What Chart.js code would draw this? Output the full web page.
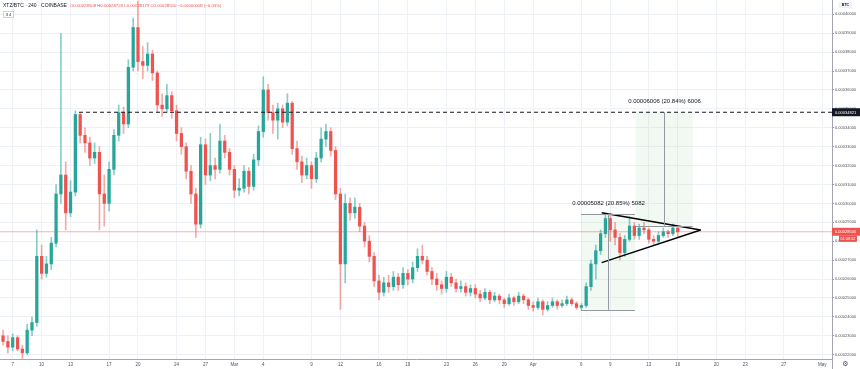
<!DOCTYPE html>
<html><head><meta charset="utf-8">
<script src="https://cdn.jsdelivr.net/npm/chart.js@4.4.1/dist/chart.umd.min.js"></script>
<style>
html,body{margin:0;padding:0;background:#fff;}
#wrap{position:relative;width:860px;height:369px;overflow:hidden;}
canvas{display:block;}
</style></head><body>
<div id="wrap"><canvas id="c" width="860" height="369"></canvas></div>
<script>
// ---- data (prices in satoshi = 1e-8 BTC), 12h candles ----
const START_DAY = -1.5;   // days from Feb 7 00:00 (first candle)
const BAR_DAYS = 0.5;
const opens = [
23300,23000,22700,22400,22900,22300,22100,23300,23700,27200,
26300,26800,27900,30500,31500,29500,30600,34700,33600,33200,
32400,32700,30500,30000,31800,33600,34800,34200,37200,39300,
37500,37300,37900,36900,35200,35000,35700,34900,33700,33000,
31700,30500,28900,33100,31500,32000,31800,33300,32700,31800,
30700,30800,31700,30900,32300,33800,36000,34800,34400,35000,
34300,35300,32900,32200,31500,32000,31300,32400,33400,33800,
32800,30500,26800,30000,29500,29800,28800,28000,27200,25900,
25300,25800,25600,26100,25700,26300,26000,26600,27200,27000,
26400,26000,25700,25500,26100,25800,25500,25600,25300,25500,
25200,25000,25300,24900,25100,24900,24700,25000,24800,25100,
24900,24600,24500,24800,24400,24600,24800,24600,24700,24900,
24700,24500,24600,25600,26800,27500,28400,29200,28600,28200,
27400,28100,28800,28300,28700,28600,28100,28000,28300,28500,
28400,28700];
const highs = [
23600,23300,23000,23100,23000,22500,23600,24000,28600,27800,
27200,28200,31000,39000,32200,31200,34900,34800,34000,33500,
33200,33000,31500,32200,33900,35200,35100,37600,39800,40700,
38300,38500,38100,37000,35800,36300,35900,35200,34000,33200,
32000,30800,33500,33400,33700,32400,34200,33600,32900,32000,
31300,32000,31900,32600,34100,36700,36300,35200,35300,35200,
35800,35400,33300,32500,32400,32200,32700,34000,34200,34000,
33000,30800,30500,30300,30300,30000,29000,28300,27400,26200,
26100,26200,26400,26300,26600,26500,26900,27600,27800,27200,
26600,26300,25900,26400,26300,26000,25900,25800,25700,25700,
25400,25500,25400,25300,25200,25000,25200,25100,25300,25200,
25000,24800,25000,24900,24800,25000,24900,24900,25100,25000,
24800,24700,25800,27000,27800,28600,29456,29400,29000,28400,
28300,29300,29000,28900,29000,28700,28300,28500,28700,28600,
28900,28726];
const lows = [
22800,22500,22100,22200,22200,21800,22000,23000,23500,26000,
26100,26500,27700,30000,28600,29300,30400,33200,32700,32000,
32100,28600,28800,29600,31500,33300,33700,34000,37000,37000,
36600,37000,36500,34800,34600,34800,34500,33300,32600,31300,
30000,28200,28700,31000,31200,31300,31600,32400,31500,30300,
30400,30600,30500,30700,32000,33500,34400,33700,33400,34000,
34100,32600,31800,31100,31300,30800,31100,32200,33000,32500,
30200,24400,25800,29100,29200,28500,27700,26900,25600,24900,
25100,25300,25400,25400,25500,25700,25800,26400,26800,26200,
25700,25400,25200,25300,25600,25300,25300,25100,25100,25000,
24800,24900,24700,24800,24700,24500,24600,24600,24700,24700,
24400,24300,24400,24100,24300,24500,24400,24500,24600,24600,
24400,24374,24500,25400,26000,27300,28200,28000,27800,27000,
27200,28000,28100,28100,28400,27900,27800,27900,28200,28200,
28300,28179];
const closes = [
23000,22700,22400,22900,22300,22100,23300,23700,27200,26300,
26800,27900,30500,31500,29500,30600,34700,33600,33200,32400,
32700,30500,30000,31800,33600,34800,34200,37200,39300,37500,
37300,37900,36900,35200,35000,35700,34900,33700,33000,31700,
30500,28900,33100,31500,32000,31800,33300,32700,31800,30700,
30800,31700,30900,32300,33800,36000,34800,34400,35000,34300,
35300,32900,32200,31500,32000,31300,32400,33400,33800,32800,
30500,26800,30000,29500,29800,28800,28000,27200,25900,25300,
25800,25600,26100,25700,26300,26000,26600,27200,27000,26400,
26000,25700,25500,26100,25800,25500,25600,25300,25500,25200,
25000,25300,24900,25100,24900,24700,25000,24800,25100,24900,
24600,24500,24800,24400,24600,24800,24600,24700,24900,24700,
24500,24600,25600,26800,27500,28400,29200,28600,28200,27400,
28100,28800,28300,28700,28600,28100,28000,28300,28500,28400,
28700,28500];

// time axis ticks (days from Feb 7) and labels
const xTickDays   = [0,3,6,10,13,17,20,23,26,31,34,38,41,45,48,51,54,59,62,66,69,73,76,80,84];
const xTickLabels = ['7','10','13','17','20','24','27','Mar','4','9','12','16','19','23','26','29','Apr','6','9','13','16','20','23','27','May'];
// price axis ticks (satoshi)
const yTickValues = [22000,23000,24000,25000,26000,27000,28000,29000,30000,31000,32000,33000,34000,35000,36000,37000,38000,39000,40000];

// drawings
const resistancePrice = 34821, resistanceFromDay = 6.88;
const lastPrice = 28500;
const measure1 = {from:58.97, to:64.57, low:24374, high:29456, mid:61.73, text:'0.00005082 (20.85%) 5082'};
const measure2 = {from:64.64, to:70.55, low:28815, high:34821, mid:67.6,  text:'0.00006006 (20.84%) 6006'};
const triUpper = [{x:61.11,y:29509},{x:71.38,y:28594}];
const triLower = [{x:61.11,y:26865},{x:71.38,y:28594}];

const X_MIN = -1.318, X_MAX = 85.007, Y_MIN = 21772, Y_MAX = 40756;
const GREEN = '#26a69a', RED = '#ef5350';
const FONT = '"Liberation Sans", Arial, sans-serif';

const times = opens.map((_, i) => START_DAY + i * BAR_DAYS);
const isUp = i => closes[i] >= opens[i];
const wickData = times.map((t, i) => ({x: t, y: [lows[i], highs[i]]}));
const bodyData = times.map((t, i) => ({x: t, y: [opens[i], closes[i]]}));
const fmt = v => (v / 1e8).toFixed(8);

const annot = {
  id: 'annot',
  beforeDatasetsDraw(chart) {
    const {ctx, scales: {x, y}} = chart;
    ctx.save();
    ctx.fillStyle = 'rgba(76,175,80,0.07)';
    for (const m of [measure1, measure2]) {
      const x1 = x.getPixelForValue(m.from), x2 = x.getPixelForValue(m.to);
      const y1 = y.getPixelForValue(m.high), y2 = y.getPixelForValue(m.low);
      ctx.fillRect(x1, y1, x2 - x1, y2 - y1);
    }
    ctx.restore();
  },
  afterDatasetsDraw(chart) {
    const {ctx, scales: {x, y}} = chart;
    ctx.save();
    ctx.strokeStyle = '#9598a1';
    ctx.lineWidth = 1;
    const line = (a, b, c, d) => { ctx.beginPath(); ctx.moveTo(a, b); ctx.lineTo(c, d); ctx.stroke(); };
    let x1 = x.getPixelForValue(measure1.from), x2 = x.getPixelForValue(measure1.to);
    let yt = y.getPixelForValue(measure1.high), yb = y.getPixelForValue(measure1.low);
    let xm = Math.round(x.getPixelForValue(measure1.mid)) + 0.5;
    line(x1, Math.round(yt) + 0.5, x2, Math.round(yt) + 0.5);
    line(x1, Math.round(yb) + 0.5, x2, Math.round(yb) + 0.5);
    line(xm, yt, xm, yb);
    ctx.fillStyle = '#131722';
    ctx.font = '6px ' + FONT;
    ctx.textAlign = 'center'; ctx.textBaseline = 'middle';
    ctx.fillText(measure1.text, xm, yt - 10);
    x1 = x.getPixelForValue(measure2.from); x2 = x.getPixelForValue(measure2.to);
    yt = y.getPixelForValue(measure2.high); yb = y.getPixelForValue(measure2.low);
    xm = Math.round(x.getPixelForValue(measure2.mid)) + 0.5;
    line(x1, Math.round(yb) + 0.5, x2, Math.round(yb) + 0.5);
    line(xm, yt, xm, yb);
    ctx.fillText(measure2.text, xm, yt - 11);
    ctx.restore();
  },
  afterDraw(chart) {
    const {ctx, scales: {y}, chartArea: a} = chart;
    ctx.save();
    const tag = (price, bg, txt) => {
      const py = y.getPixelForValue(price);
      ctx.fillStyle = bg;
      ctx.fillRect(a.right, py - 4, 860 - a.right, 8);
      ctx.fillStyle = '#fff';
      ctx.font = '4px ' + FONT;
      ctx.textAlign = 'left'; ctx.textBaseline = 'middle';
      ctx.fillText(txt, a.right + 3, py + 0.3);
      return py;
    };
    tag(resistancePrice, '#131722', fmt(resistancePrice));
    const py = tag(lastPrice, RED, fmt(lastPrice));
    ctx.fillStyle = RED;
    ctx.fillRect(a.right + 7, py + 4, 18, 6);
    ctx.fillStyle = '#fff';
    ctx.font = '3.8px ' + FONT;
    ctx.textAlign = 'center';
    ctx.fillText('01:08:52', a.right + 16, py + 7.2);
    ctx.textAlign = 'left'; ctx.textBaseline = 'middle';
    ctx.fillStyle = '#131722';
    ctx.font = '5px ' + FONT;
    ctx.fillText('XTZ/BTC · 240 · COINBASE', 3, 6);
    ctx.fillStyle = RED;
    ctx.font = '4.3px ' + FONT;
    ctx.fillText('O0.00028508 H0.00028726 L0.00028179 C0.00028500 \u22120.00000008 (\u22120.03%)', 70, 6);
    ctx.strokeStyle = '#d1d4dc'; ctx.lineWidth = 1;
    ctx.fillStyle = '#fff';
    ctx.fillRect(3.5, 11.5, 10, 6); ctx.strokeRect(3.5, 11.5, 10, 6);
    ctx.fillStyle = '#131722'; ctx.font = '4px ' + FONT; ctx.textAlign = 'center';
    ctx.fillText('3 4', 8.5, 14.6);
    ctx.fillStyle = '#f0f3fa';
    ctx.fillRect(839, 2, 13, 6);
    ctx.fillStyle = '#131722'; ctx.font = 'bold 3.6px ' + FONT;
    ctx.fillText('BTC', 845.5, 5.2);
    ctx.strokeStyle = '#a3a6af';
    ctx.beginPath(); ctx.moveTo(a.right + 0.5, a.bottom); ctx.lineTo(a.right + 0.5, 369); ctx.stroke();
    ctx.fillStyle = '#50535e'; ctx.font = '7px "DejaVu Sans"';
    ctx.fillText('\u2699', 845.5, 364.5);
    ctx.restore();
  }
};

new Chart(document.getElementById('c'), {
  type: 'bar',
  data: {
    datasets: [
      {type: 'line', data: triUpper, borderColor: '#000', borderWidth: 1.4, pointRadius: 0, order: 1},
      {type: 'line', data: triLower, borderColor: '#000', borderWidth: 1.4, pointRadius: 0, order: 1},
      {type: 'line', data: [{x: resistanceFromDay, y: resistancePrice}, {x: X_MAX, y: resistancePrice}],
        borderColor: '#131722', borderWidth: 1.2, borderDash: [4, 3], pointRadius: 0, order: 2},
      {type: 'line', data: [{x: X_MIN, y: lastPrice}, {x: X_MAX, y: lastPrice}],
        borderColor: 'rgba(239,83,80,0.45)', borderWidth: 1, pointRadius: 0, order: 3},
      {data: bodyData, grouped: false, barThickness: 2.6, minBarLength: 1, order: 4,
        backgroundColor: c => isUp(c.dataIndex) ? GREEN : RED},
      {data: wickData, grouped: false, barThickness: 1, order: 5,
        backgroundColor: c => isUp(c.dataIndex) ? 'rgba(38,166,154,0.55)' : 'rgba(239,83,80,0.5)'}
    ]
  },
  options: {
    responsive: false, animation: false,
    layout: {padding: 0, autoPadding: false},
    plugins: {legend: {display: false}, tooltip: {enabled: false}},
    scales: {
      x: {
        type: 'linear', min: X_MIN, max: X_MAX, offset: false,
        afterBuildTicks: s => { s.ticks = xTickDays.map(v => ({value: v})); },
        afterFit: s => { s.height = 10; s.paddingLeft = 0; s.paddingRight = 0; },
        ticks: {callback: (v, i) => xTickLabels[i], autoSkip: false, maxRotation: 0,
          font: {size: 4.5, family: FONT}, color: '#50535e', padding: 3},
        grid: {color: '#eef1f6', drawTicks: false, offset: false},
        border: {color: '#a3a6af'}
      },
      y: {
        position: 'right', min: Y_MIN, max: Y_MAX,
        afterBuildTicks: s => { s.ticks = yTickValues.map(v => ({value: v})); },
        afterFit: s => { s.width = 28; s.paddingTop = 0; s.paddingBottom = 0; },
        ticks: {callback: v => fmt(v), font: {size: 4, family: FONT}, color: '#50535e', padding: 1},
        grid: {color: '#eef1f6', tickLength: 2, tickColor: '#8a8d96'},
        border: {color: '#a3a6af'}
      }
    }
  },
  plugins: [annot]
});
</script>
</body></html>
